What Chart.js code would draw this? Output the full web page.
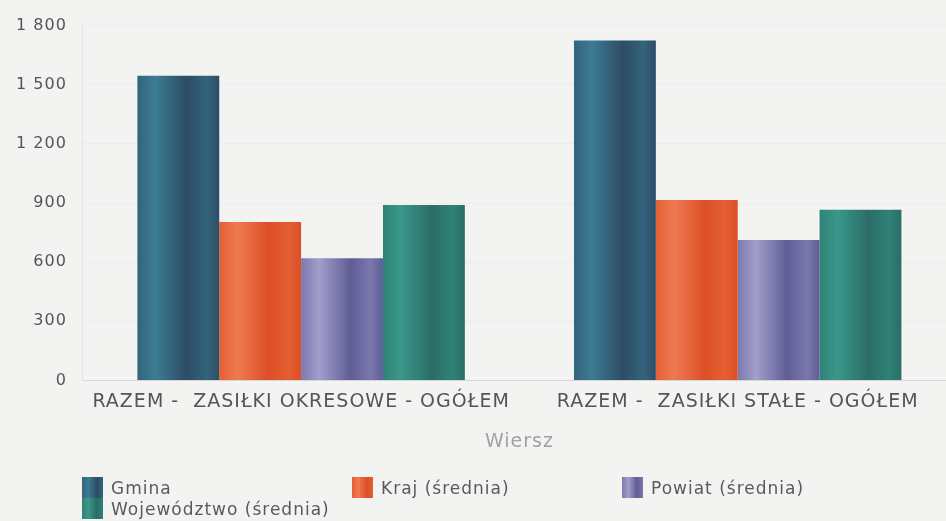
<!DOCTYPE html>
<html>
<head>
<meta charset="utf-8">
<script src="https://cdn.jsdelivr.net/npm/chart.js@4/dist/chart.umd.min.js"></script>
<style>
  html, body { margin: 0; padding: 0; background: #f3f3f2; overflow: hidden; }
  #wrap { position: relative; width: 946px; height: 521px; overflow: hidden; }
  #chart { position: absolute; left: 0; top: 0; }
  #legend { position: absolute; left: 82px; top: 477px; width: 860px; font-family: 'DejaVu Sans', sans-serif; font-size: 17px; letter-spacing: 1px; color: #5a5a5a; }
  #legend .item { position: absolute; display: flex; align-items: center; white-space: nowrap; height: 21px; }
  #legend .box { width: 21px; height: 21px; margin-right: 8px; }
</style>
</head>
<body>
<div id="wrap">
  <canvas id="chart" width="962" height="521"></canvas>
  <div id="legend"></div>
</div>
<script>
// dane
const categories = ['RAZEM -  ZASIŁKI OKRESOWE - OGÓŁEM', 'RAZEM -  ZASIŁKI STAŁE - OGÓŁEM'];
const seriesNames = ['Gmina', 'Kraj (średnia)', 'Powiat (średnia)', 'Województwo (średnia)'];
const gmina = [1545, 1725];
const kraj = [803, 915];
const powiat = [620, 712];
const wojewodztwo = [890, 866];
const yTicks = [0, 300, 600, 900, 1200, 1500, 1800];

// kolory: [jasny, ciemny, środek] do cieniowania słupków
const palette = [
  ['#3b7c93', '#2e4c65', '#33647c'],
  ['#ee7a52', '#dd4f26', '#e35f33'],
  ['#a29fcb', '#5f5d96', '#7b78ae'],
  ['#3a978a', '#2a6d66', '#2f8276']
];

const fmt = (v) => String(v).replace(/\B(?=(\d{3})+(?!\d))/g, ' ');

// rozstrzelony tekst jak w oryginale
const spacing = {
  id: 'spacing',
  beforeUpdate(chart) { chart.ctx.letterSpacing = '1px'; },
  beforeDraw(chart) { chart.ctx.letterSpacing = '1px'; }
};

// cieniowanie słupków gradientem poziomym
const barShading = {
  id: 'barShading',
  beforeDatasetsDraw(chart) {
    const ctx = chart.ctx;
    chart.data.datasets.forEach((ds, i) => {
      const meta = chart.getDatasetMeta(i);
      meta.data.forEach((bar) => {
        const left = bar.x - bar.width / 2;
        const g = ctx.createLinearGradient(left, 0, left + bar.width, 0);
        const [light, dark, mid] = palette[i];
        g.addColorStop(0, mid);
        g.addColorStop(0.22, light);
        g.addColorStop(0.6, dark);
        g.addColorStop(0.85, mid);
        g.addColorStop(1, dark);
        bar.options.backgroundColor = g;
      });
    });
  }
};

const datasets = [gmina, kraj, powiat, wojewodztwo].map((d, i) => ({
  label: seriesNames[i],
  data: d,
  // funkcja -> każdy słupek ma własne opcje
  backgroundColor: (c) => palette[c.datasetIndex][2],
  borderWidth: 0,
  barPercentage: 1,
  categoryPercentage: 0.75
}));

new Chart(document.getElementById('chart'), {
  type: 'bar',
  data: { labels: categories, datasets: datasets },
  plugins: [spacing, barShading],
  options: {
    responsive: false,
    animation: false,
    layout: { padding: { left: 0, right: 6, top: 23, bottom: 64 } },
    plugins: {
      legend: { display: false },
      tooltip: { enabled: false }
    },
    scales: {
      x: {
        grid: { display: false, drawTicks: false },
        border: { color: '#d8d8d8' },
        ticks: { color: '#555', font: { family: 'DejaVu Sans', size: 19 }, padding: 10, maxRotation: 0 },
        title: { display: true, text: 'Wiersz', color: '#a0a0a6', font: { family: 'DejaVu Sans', size: 19 }, padding: { top: 7 } }
      },
      y: {
        min: 0,
        max: 1800,
        afterBuildTicks: (axis) => { axis.ticks = yTicks.map(v => ({ value: v })); },
        grid: { color: '#ececec', drawTicks: false },
        border: { display: true, color: '#e4e4e4' },
        ticks: { color: '#555', font: { family: 'DejaVu Sans', size: 16 }, padding: 16, callback: (v) => fmt(v) }
      }
    }
  }
});

// legenda w kolumnach
const legend = document.getElementById('legend');
seriesNames.forEach((name, i) => {
  const item = document.createElement('div');
  item.className = 'item';
  item.style.left = (i % 3) * 270 + 'px';
  item.style.top = Math.floor(i / 3) * 21 + 'px';
  item.innerHTML = `<span class="box" style="background:linear-gradient(90deg, ${palette[i][2]}, ${palette[i][0]} 30%, ${palette[i][1]} 70%, ${palette[i][2]})"></span>${name}`;
  legend.appendChild(item);
});
</script>
</body>
</html>
